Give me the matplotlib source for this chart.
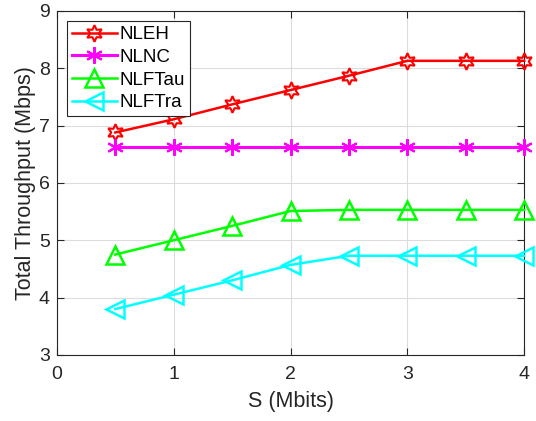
import numpy as np
import matplotlib.pyplot as plt

# data
S = [0.5, 1.0, 1.5, 2.0, 2.5, 3.0, 3.5, 4.0]
nleh = [6.88, 7.11, 7.37, 7.62, 7.87, 8.13, 8.13, 8.13]
nlnc = [6.63, 6.63, 6.63, 6.63, 6.63, 6.63, 6.63, 6.63]
nlftau = [4.75, 5.00, 5.25, 5.51, 5.53, 5.53, 5.53, 5.53]
nlftra = [3.80, 4.05, 4.30, 4.57, 4.73, 4.73, 4.73, 4.73]

plt.rcParams['font.family'] = ['Arial', 'Liberation Sans', 'DejaVu Sans']

fig = plt.figure(figsize=(5.36, 4.21), dpi=100)
ax = fig.add_axes([0.106, 0.157, 0.872, 0.817])

ax.plot(S, nleh, color='red', lw=1.8, marker=(6, 1, 0), ms=12, mfc='none', mew=1.5,
        label='NLEH', clip_on=False, zorder=3)
ax.plot(S, nlnc, color='magenta', lw=2.2, marker=(6, 2, 0), ms=12, mew=1.5,
        label='NLNC', clip_on=False, zorder=3)
ax.plot(S, nlftau, color='#00ff00', lw=1.8, marker='^', ms=13, mfc='none', mew=1.8,
        label='NLFTau', clip_on=False, zorder=3)
ax.plot(S, nlftra, color='cyan', lw=1.8, marker='<', ms=13, mfc='none', mew=1.8,
        label='NLFTra', clip_on=False, zorder=3)

ax.set_xlim(0, 4)
ax.set_ylim(3, 9)
ax.set_xticks([0, 1, 2, 3, 4])
ax.set_yticks([3, 4, 5, 6, 7, 8, 9])
ax.grid(True, color='#dcdcdc', lw=0.8)
ax.set_axisbelow(True)
ax.tick_params(labelsize=14, direction='in', length=5, color='#262626', labelcolor='#262626',
               top=True, right=True)
ax.tick_params(axis='x', pad=8)
ax.tick_params(axis='y', pad=5)
for sp in ax.spines.values():
    sp.set_color('#262626')
ax.set_xlabel('S (Mbits)', fontsize=15.5, color='#262626', labelpad=6)
ax.set_ylabel('Total Throughput (Mbps)', fontsize=15.5, color='#262626', labelpad=2)

leg = ax.legend(loc='upper left', fontsize=13.5, fancybox=False, edgecolor='#262626',
                handlelength=2.4, borderpad=0.25, labelspacing=0.3, handletextpad=0.15,
                borderaxespad=0.55, framealpha=1)
leg.get_frame().set_linewidth(0.8)
leg.set_zorder(5)

fig.savefig('out.png', dpi=100)
